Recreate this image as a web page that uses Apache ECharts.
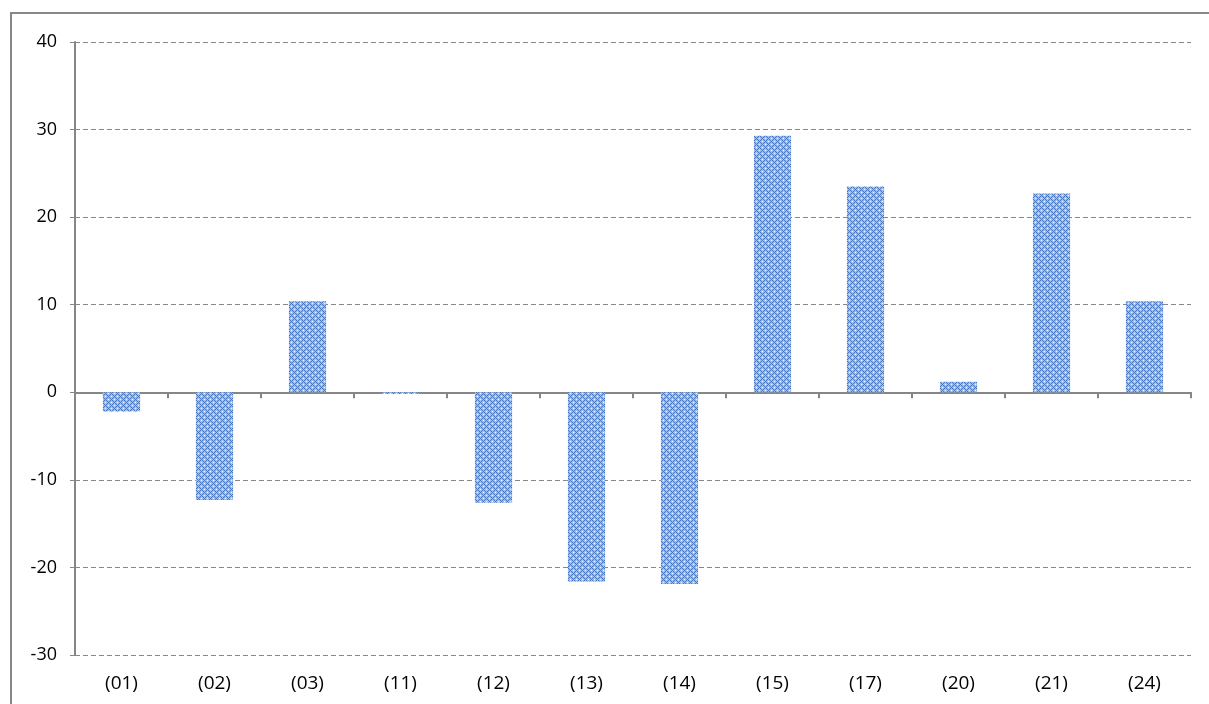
<!DOCTYPE html>
<html>
<head>
<meta charset="utf-8">
<script src="https://cdn.jsdelivr.net/npm/echarts@6/dist/echarts.min.js"></script>
<style>
    html, body { margin: 0; padding: 0; background: #fff; }
    #frame { position: absolute; left: 10px; top: 12px; width: 1199px; height: 692px;
             border-left: 2px solid #878787; border-top: 2px solid #878787; }
    #main { position: absolute; left: 0; top: 0; width: 1209px; height: 704px; }
</style>
</head>
<body>
<div id="frame"></div>
<div id="main"></div>
<script>
// 分类和数值
var categories = ["(01)", "(02)", "(03)", "(11)", "(12)", "(13)", "(14)", "(15)", "(17)", "(20)", "(21)", "(24)"];
var values = [-2.2, -12.3, 10.4, -0.2, -12.6, -21.6, -21.9, 29.3, 23.5, 1.2, 22.7, 10.4];
var yTicks = [-30, -20, -10, 0, 10, 20, 30, 40];

//菱形网格填充图案
function makePattern() {
    var n = 6;
    var c = document.createElement('canvas');
    c.width = n;
    c.height = n;
    var ctx = c.getContext('2d');
    ctx.fillStyle = '#9ebce6';
    ctx.fillRect(0, 0, n, n);
    for (var x = 0; x < n; x++) {
        for (var y = 0; y < n; y++) {
            var a = (x + y) % n, b = (x - y + n) % n;
            if (a == 0 || b == 0) {
                ctx.fillStyle = '#4677c2';
                ctx.fillRect(x, y, 1, 1);
            } else if (a == 3 && b == 3) {
                ctx.fillStyle = '#f4f7fc';
                ctx.fillRect(x, y, 1, 1);
            }
        }
    }
    return c;
}

var option = {
    animation: false,
    textStyle: { fontFamily: 'Open Sans' },
    grid: {
        left: 75,
        top: 42,
        right: 18,
        bottom: 49
    },
    xAxis: [
        {
            type: 'category',
            data: categories,
            position: 'bottom',
            axisLine: { show: false, onZero: false },
            axisTick: { show: false },
            axisLabel: { color: '#000', fontSize: 19, margin: 19 },
            splitLine: { show: false }
        },
        {
            type: 'category',
            data: categories,
            position: 'bottom',
            axisLine: { show: true, onZero: true, lineStyle: { color: '#868686', width: 2 } },
            axisTick: { show: true, length: 6, lineStyle: { color: '#868686', width: 2 } },
            axisLabel: { show: false },
            splitLine: { show: false }
        }
    ],
    yAxis: {
        type: 'value',
        min: yTicks[0],
        max: yTicks[yTicks.length - 1],
        interval: 10,
        axisLine: { show: true, lineStyle: { color: '#868686', width: 2 } },
        axisTick: { show: true, length: 5, lineStyle: { color: '#868686', width: 1 } },
        axisLabel: { color: '#000', fontSize: 18, margin: 18 },
        splitLine: { show: true, lineStyle: { color: '#868686', type: [5, 3], width: 1 } }
    },
    series: [
        {
            type: 'bar',
            xAxisIndex: 0,
            data: values,
            barWidth: '40%',
            itemStyle: {
                color: { image: makePattern(), repeat: 'repeat' }
            }
        }
    ]
};

var dom_chart = echarts.init(document.getElementById('main'));
dom_chart.setOption(option);
</script>
</body>
</html>
